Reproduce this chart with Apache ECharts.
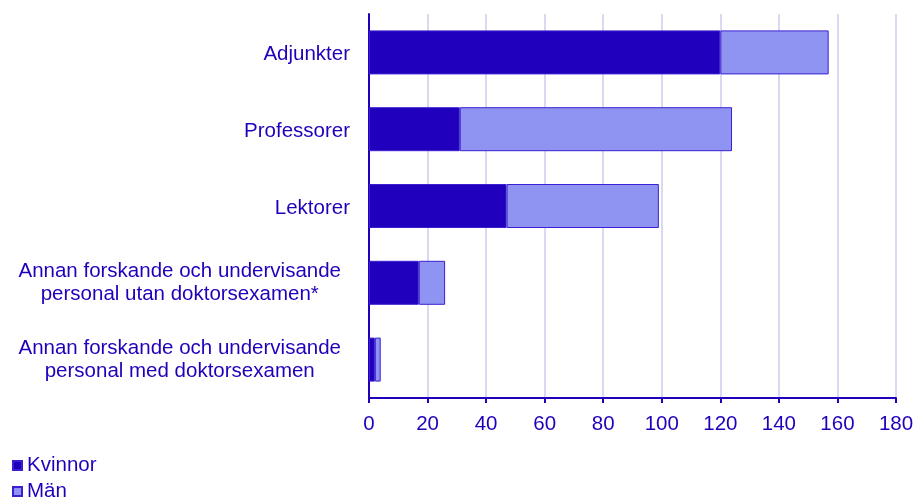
<!DOCTYPE html>
<html>
<head>
<meta charset="utf-8">
<script src="https://cdn.jsdelivr.net/npm/echarts@6/dist/echarts.min.js"></script>
<style>
  html, body { margin: 0; padding: 0; background: #fff; }
  #chart { width: 920px; height: 503px; }
</style>
</head>
<body>
<div id="chart"></div>
<script>
// Personalkategorier, uppdelat på kön
const categories = [
  'Adjunkter',
  'Professorer',
  'Lektorer',
  'Annan forskande och undervisande\npersonal utan doktorsexamen*',
  'Annan forskande och undervisande\npersonal med doktorsexamen'
];
const kvinnor = [120, 31, 47, 17, 2];
const man = [37, 93, 52, 9, 2];
const xTicks = { min: 0, max: 180, interval: 20 };

const textColor = '#2200BB';
const fontFamily = '"Liberation Sans", Arial, sans-serif';
const fontSize = 20.5;

// Multi-line category names are centred line by line, and their block sits a bit further left
const yData = categories.map(function (c) {
  if (c.indexOf('\n') < 0) return { value: c, textStyle: { padding: [4, 0, 0, 0] } };
  return { value: c, textStyle: { padding: [0, 9, 0, 0] } };
});

const chart = echarts.init(document.getElementById('chart'), null, { renderer: 'canvas' });
chart.setOption({
  animation: false,
  textStyle: { fontFamily: fontFamily, color: textColor },
  grid: { left: 369, right: 24, top: 14, bottom: 105, containLabel: false },
  xAxis: {
    type: 'value',
    min: xTicks.min, max: xTicks.max, interval: xTicks.interval,
    axisLine: { show: true, lineStyle: { color: textColor, width: 2 } },
    axisTick: { show: true, length: 5, lineStyle: { color: textColor, width: 2 } },
    axisLabel: { color: textColor, fontSize: fontSize, fontFamily: fontFamily, margin: 16 },
    splitLine: { show: true, lineStyle: { color: '#D9D9F2', width: 2 } }
  },
  yAxis: {
    type: 'category',
    data: yData,
    inverse: true,
    axisLine: { show: true, lineStyle: { color: textColor, width: 2 } },
    axisTick: { show: false },
    axisLabel: {
      color: textColor, fontSize: fontSize, fontFamily: fontFamily, margin: 19, align: 'right',
      formatter: function (v) {
        return v.split('\n').map(function (line) { return '{c|' + line + '}'; }).join('\n');
      },
      rich: {
        c: { align: 'center', fontSize: fontSize, fontFamily: fontFamily, color: textColor, lineHeight: 23 }
      }
    }
  },
  legend: {
    orient: 'vertical',
    left: 12,
    top: 455,
    padding: 0,
    itemGap: 5,
    itemWidth: 9,
    itemHeight: 9,
    icon: 'rect',
    textStyle: { color: textColor, fontSize: fontSize, fontFamily: fontFamily, lineHeight: 20 },
    data: ['Kvinnor', 'Män']
  },
  series: [
    {
      name: 'Kvinnor',
      type: 'bar',
      stack: 'total',
      data: kvinnor,
      barWidth: 44,
      itemStyle: { color: '#2000BC', borderColor: '#3A20D0', borderWidth: 1 }
    },
    {
      name: 'Män',
      type: 'bar',
      stack: 'total',
      data: man,
      barWidth: 44,
      itemStyle: { color: '#8F94F3', borderColor: '#3A20D0', borderWidth: 1 }
    }
  ]
});
</script>
</body>
</html>
